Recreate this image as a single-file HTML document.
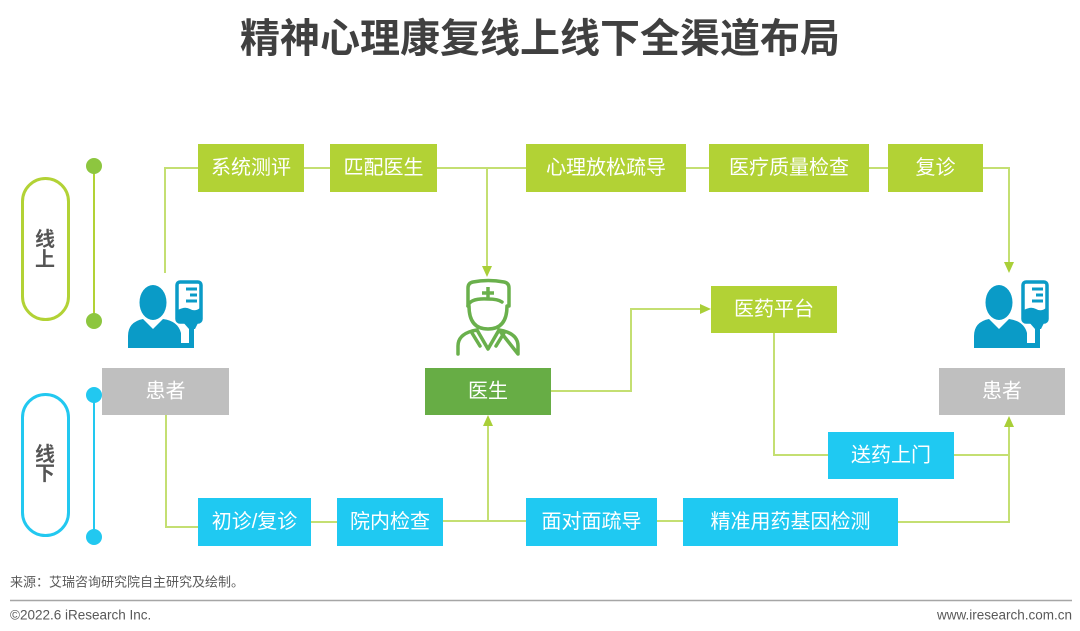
<!DOCTYPE html>
<html><head><meta charset="utf-8">
<style>
html,body{margin:0;padding:0;background:#fff;}
body{width:1080px;height:631px;overflow:hidden;}
svg{display:block;}
.bt{font-family:"Liberation Sans","Noto Sans CJK SC",sans-serif;font-size:20px;fill:#fff;text-anchor:middle;dominant-baseline:central;}
</style></head>
<body>
<svg width="1080" height="631" viewBox="0 0 1080 631" xmlns="http://www.w3.org/2000/svg">
<defs>
<g id="patient">
  <ellipse cx="153" cy="302.5" rx="13.5" ry="17.5" fill="#0a9bc7"/>
  <path d="M128,348 L128,336 Q128,322 143,319 L153,329 L163,319 Q178,321 181,333 L181,343 L186,343 L186,348 Z" fill="#0a9bc7"/>
  <rect x="177" y="282" width="24" height="40" rx="3" fill="none" stroke="#0a9bc7" stroke-width="3.5"/>
  <path d="M186,289 H197 M190,295 H197 M186,301 H197" stroke="#0a9bc7" stroke-width="3" fill="none"/>
  <path d="M178,310 Q185,306 190,309 Q195,312 200,308 L200,321 L178,321 Z" fill="#0a9bc7"/>
  <path d="M182,321 L189,329 L195,329 L199,321 Z" fill="#0a9bc7"/>
  <rect x="189" y="328" width="5" height="20" fill="#0a9bc7"/>
  <rect x="183" y="343" width="11" height="5" fill="#0a9bc7"/>
</g>
</defs>

<!-- Title -->
<text x="540" y="39" font-family="'Liberation Sans','Noto Sans CJK SC',sans-serif" font-size="40" font-weight="bold" fill="#404040" text-anchor="middle" dominant-baseline="central">精神心理康复线上线下全渠道布局</text>

<!-- Left pills & timelines -->
<rect x="22.5" y="178.5" width="46" height="141" rx="23" fill="none" stroke="#b2d235" stroke-width="3"/>
<text x="45" y="240" font-family="'Liberation Sans','Noto Sans CJK SC',sans-serif" font-size="20" font-weight="bold" fill="#555" text-anchor="middle" dominant-baseline="central">线</text>
<text x="45" y="260" font-family="'Liberation Sans','Noto Sans CJK SC',sans-serif" font-size="20" font-weight="bold" fill="#555" text-anchor="middle" dominant-baseline="central">上</text>
<line x1="94" y1="166" x2="94" y2="321" stroke="#b2d235" stroke-width="2"/>
<circle cx="94" cy="166" r="8" fill="#8dc63f"/>
<circle cx="94" cy="321" r="8" fill="#8dc63f"/>

<rect x="22.5" y="394.5" width="46" height="141" rx="23" fill="none" stroke="#22c8f0" stroke-width="3"/>
<text x="45" y="455" font-family="'Liberation Sans','Noto Sans CJK SC',sans-serif" font-size="20" font-weight="bold" fill="#555" text-anchor="middle" dominant-baseline="central">线</text>
<text x="45" y="474" font-family="'Liberation Sans','Noto Sans CJK SC',sans-serif" font-size="20" font-weight="bold" fill="#555" text-anchor="middle" dominant-baseline="central">下</text>
<line x1="94" y1="395" x2="94" y2="537" stroke="#22c8f0" stroke-width="2"/>
<circle cx="94" cy="395" r="8" fill="#22c8f0"/>
<circle cx="94" cy="537" r="8" fill="#22c8f0"/>

<!-- Connectors -->
<g stroke="#c4df72" stroke-width="2" fill="none">
  <polyline points="165,273 165,168 198,168"/>
  <line x1="304" y1="168" x2="330" y2="168"/>
  <line x1="437" y1="168" x2="526" y2="168"/>
  <line x1="487" y1="168" x2="487" y2="268"/>
  <line x1="686" y1="168" x2="709" y2="168"/>
  <line x1="869" y1="168" x2="888" y2="168"/>
  <polyline points="983,168 1009,168 1009,264"/>
  <polyline points="551,391 631,391 631,309 703,309"/>
  <polyline points="774,333 774,455 828,455"/>
  <polyline points="954,455 1009,455"/>
  <polyline points="898,522 1009,522 1009,426"/>
  <polyline points="166,415 166,527 198,527"/>
  <line x1="311" y1="522" x2="337" y2="522"/>
  <line x1="443" y1="521" x2="526" y2="521"/>
  <line x1="488" y1="521" x2="488" y2="425"/>
  <line x1="657" y1="521" x2="683" y2="521"/>
</g>
<!-- Arrowheads -->
<g fill="#a9cf38">
  <polygon points="482,266 492,266 487,277"/>
  <polygon points="1004,262 1014,262 1009,273"/>
  <polygon points="700,304 700,314 711,309"/>
  <polygon points="483,426 493,426 488,415"/>
  <polygon points="1004,427 1014,427 1009,416"/>
</g>

<!-- Online boxes -->
<rect x="198" y="144" width="106" height="48" fill="#b2d235"/>
<text class="bt" x="251" y="168">系统测评</text>
<rect x="330" y="144" width="107" height="48" fill="#b2d235"/>
<text class="bt" x="383.5" y="168">匹配医生</text>
<rect x="526" y="144" width="160" height="48" fill="#b2d235"/>
<text class="bt" x="606" y="168">心理放松疏导</text>
<rect x="709" y="144" width="160" height="48" fill="#b2d235"/>
<text class="bt" x="789" y="168">医疗质量检查</text>
<rect x="888" y="144" width="95" height="48" fill="#b2d235"/>
<text class="bt" x="935.5" y="168">复诊</text>
<rect x="711" y="286" width="126" height="47" fill="#b2d235"/>
<text class="bt" x="774" y="309.5">医药平台</text>

<!-- Central nodes -->
<rect x="102" y="368" width="127" height="47" fill="#bfbfbf"/>
<text class="bt" x="165.5" y="391.5">患者</text>
<rect x="425" y="368" width="126" height="47" fill="#67ad45"/>
<text class="bt" x="488" y="391.5">医生</text>
<rect x="939" y="368" width="126" height="47" fill="#bfbfbf"/>
<text class="bt" x="1002" y="391.5">患者</text>

<!-- Offline boxes -->
<rect x="828" y="432" width="126" height="47" fill="#1fc9f2"/>
<text class="bt" x="891" y="455.5">送药上门</text>
<rect x="198" y="498" width="113" height="48" fill="#1fc9f2"/>
<text class="bt" x="254.5" y="522">初诊/复诊</text>
<rect x="337" y="498" width="106" height="48" fill="#1fc9f2"/>
<text class="bt" x="390" y="522">院内检查</text>
<rect x="526" y="498" width="131" height="48" fill="#1fc9f2"/>
<text class="bt" x="591.5" y="522">面对面疏导</text>
<rect x="683" y="498" width="215" height="48" fill="#1fc9f2"/>
<text class="bt" x="790.5" y="522">精准用药基因检测</text>

<!-- Patient icons -->
<use href="#patient"/>
<use href="#patient" transform="translate(846,0)"/>

<!-- Doctor icon -->
<g fill="none" stroke="#6ab04c" stroke-width="3.5" stroke-linejoin="round" stroke-linecap="round">
  <path d="M468,306 L468,288 Q468,283 473,282 Q488,279 504,282 Q509,283 509,288 L509,306"/>
  <path d="M468,306 Q470,298 488,299 Q498,299 502,302"/>
  <path d="M469,306 Q469,329 488,329 Q507,329 507,306"/>
  <path d="M458,354 L458,346 Q458,335 472,331 L477,330 M499,330 L504,331 Q518,335 518,346 L518,354 Z"/>
  <path d="M477,330 L488,349 L499,330"/>
  <path d="M472,333 L480,346 M504,333 L496,346"/>
</g>
<path d="M488,287 V299 M482,293 H494" stroke="#6ab04c" stroke-width="3.5"/>

<!-- Footer -->
<text x="10" y="582" font-family="'Liberation Sans','Noto Sans CJK SC',sans-serif" font-size="13" fill="#595959" dominant-baseline="central">来源：艾瑞咨询研究院自主研究及绘制。</text>
<line x1="10" y1="600.5" x2="1072" y2="600.5" stroke="#a6a6a6" stroke-width="1.5"/>
<text x="10" y="615" font-family="'Liberation Sans','Noto Sans CJK SC',sans-serif" font-size="13.5" fill="#595959" dominant-baseline="central">©2022.6 iResearch Inc.</text>
<text x="1072" y="615" font-family="'Liberation Sans','Noto Sans CJK SC',sans-serif" font-size="13.5" fill="#595959" text-anchor="end" dominant-baseline="central">www.iresearch.com.cn</text>
</svg>
</body></html>
